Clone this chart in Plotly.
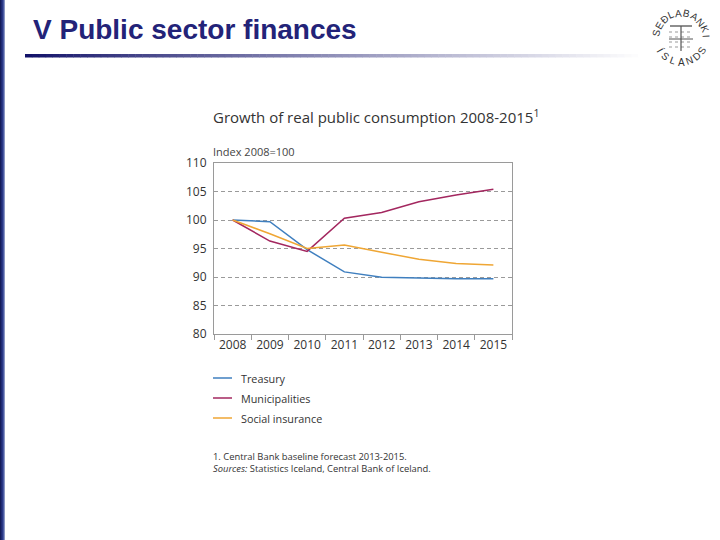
import math
import plotly.graph_objects as go

years = ["2008", "2009", "2010", "2011", "2012", "2013", "2014", "2015"]
treasury = [100.0, 99.7, 94.8, 90.9, 89.95, 89.8, 89.7, 89.7]
municipalities = [100.0, 96.3, 94.5, 100.3, 101.3, 103.2, 104.4, 105.4]
social_insurance = [100.0, 97.6, 95.0, 95.6, 94.35, 93.1, 92.35, 92.1]

series_names = ["Treasury", "Municipalities", "Social insurance"]
series_colors = ["#3f7fbf", "#a3275f", "#efa634"]
y_ticks = [80, 85, 90, 95, 100, 105, 110]

W, H = 720, 540
L, R, T, B = 214, 512, 163, 334


def px(x):
    return (x - L) / (R - L)


def py(y):
    return (B - y) / (B - T)


fig = go.Figure()
for name, vals, col in zip(series_names, [treasury, municipalities, social_insurance], series_colors):
    fig.add_trace(go.Scatter(x=years, y=vals, name=name, mode="lines",
                             line=dict(color=col, width=1.5), showlegend=False, hoverinfo="skip"))

shapes = []
annotations = []

# left slide edge
edge_cols = ["#141c5a", "#1f2a72", "#2a3886", "#4a5aa0", "#8a96c4"]
for i, c in enumerate(edge_cols):
    shapes.append(dict(type="rect", xref="paper", yref="paper", x0=px(i), x1=px(i + 1), y0=py(540), y1=py(0),
                       fillcolor=c, line=dict(width=0), layer="above"))

# gradient rule under the title
n = 90
x_start, x_end = 25, 645
for i in range(n):
    t = i / (n - 1)
    r = int(18 + (255 - 18) * t ** 0.9)
    g = int(18 + (255 - 18) * t ** 0.9)
    b = int(105 + (255 - 105) * t ** 0.9)
    xa = x_start + (x_end - x_start) * i / n
    xb = x_start + (x_end - x_start) * (i + 1) / n + 0.5
    shapes.append(dict(type="rect", xref="paper", yref="paper", x0=px(xa), x1=px(xb), y0=py(57.5), y1=py(54),
                       fillcolor=f"rgb({r},{g},{b})", line=dict(width=0)))

# slide title
annotations.append(dict(text="<b>V Public sector finances</b>", xref="paper", yref="paper",
                        x=px(31), y=py(29), xanchor="left", yanchor="middle", showarrow=False,
                        font=dict(family="Liberation Sans", size=28, color="#232378")))

# logo approximation (circular seal lettering)
cx, cy, rad = 681, 38, 25
top_word = "SEÐLABANKI"
for i, ch in enumerate(top_word):
    ang = 168 - i * (165 / (len(top_word) - 1))
    a = math.radians(ang)
    x = cx + rad * math.cos(a)
    y = cy - rad * math.sin(a)
    annotations.append(dict(text=ch, xref="paper", yref="paper", x=px(x), y=py(y), showarrow=False,
                            xanchor="center", yanchor="middle",
                            textangle=90 - ang, font=dict(family="Liberation Sans", size=10, color="#333")))
bottom_word = "ÍSLANDS"
for i, ch in enumerate(bottom_word):
    ang = -150 + i * (120 / (len(bottom_word) - 1))
    a = math.radians(ang)
    x = cx + (rad - 1) * math.cos(a)
    y = cy - (rad - 1) * math.sin(a)
    annotations.append(dict(text=ch, xref="paper", yref="paper", x=px(x), y=py(y), showarrow=False,
                            xanchor="center", yanchor="middle",
                            textangle=-90 - ang, font=dict(family="Liberation Sans", size=10, color="#333")))
# inner crest (light sketch)
for yy in [cy - 6, cy - 1, cy + 4, cy + 9]:
    shapes.append(dict(type="line", xref="paper", yref="paper", x0=px(cx - 12), x1=px(cx + 12),
                       y0=py(yy), y1=py(yy), line=dict(color="#999", width=1, dash="dot")))
shapes.append(dict(type="line", xref="paper", yref="paper", x0=px(cx - 11), x1=px(cx + 11),
                   y0=py(cy - 12), y1=py(cy - 12), line=dict(color="#444", width=1.2)))
shapes.append(dict(type="line", xref="paper", yref="paper", x0=px(cx), x1=px(cx),
                   y0=py(cy - 12), y1=py(cy + 13), line=dict(color="#555", width=1.2)))
shapes.append(dict(type="line", xref="paper", yref="paper", x0=px(cx - 12), x1=px(cx + 12),
                   y0=py(cy + 1), y1=py(cy + 1), line=dict(color="#555", width=1)))

# chart title and axis title
annotations.append(dict(text="Growth of real public consumption 2008-2015<sup>1</sup>", xref="paper", yref="paper",
                        x=px(211), y=py(117), xanchor="left", yanchor="middle", showarrow=False,
                        font=dict(family="Open Sans", size=15, color="#333")))
annotations.append(dict(text="Index 2008=100", xref="paper", yref="paper",
                        x=px(211), y=py(151), xanchor="left", yanchor="middle", showarrow=False,
                        font=dict(family="Open Sans", size=11, color="#444")))

# legend
for i, (name, col) in enumerate(zip(series_names, series_colors)):
    yy = 378 + 20 * i
    shapes.append(dict(type="line", xref="paper", yref="paper", x0=px(213), x1=px(232), y0=py(yy), y1=py(yy),
                       line=dict(color=col, width=1.5)))
    annotations.append(dict(text=name, xref="paper", yref="paper", x=px(239), y=py(yy),
                            xanchor="left", yanchor="middle", showarrow=False,
                            font=dict(family="Open Sans", size=10.8, color="#333")))

# footnotes
annotations.append(dict(text="1. Central Bank baseline forecast 2013-2015.", xref="paper", yref="paper",
                        x=px(211), y=py(456), xanchor="left", yanchor="middle", showarrow=False,
                        font=dict(family="Open Sans", size=9.4, color="#333")))
annotations.append(dict(text="<i>Sources:</i> Statistics Iceland, Central Bank of Iceland.", xref="paper", yref="paper",
                        x=px(211), y=py(468), xanchor="left", yanchor="middle", showarrow=False,
                        font=dict(family="Open Sans", size=9.4, color="#333")))

fig.update_layout(
    width=W, height=H,
    margin=dict(l=L, r=W - R, t=T, b=H - B, pad=0),
    paper_bgcolor="white", plot_bgcolor="white",
    shapes=shapes, annotations=annotations,
    xaxis=dict(type="category", range=[-0.5, 7.5], showgrid=False, showline=True, linecolor="#9a9a9a",
               linewidth=1, mirror=True, ticks="outside", tickson="boundaries", ticklen=5, tickcolor="#9a9a9a",
               tickfont=dict(family="Open Sans", size=12, color="#333"), fixedrange=True),
    yaxis=dict(range=[80, 110], tickvals=y_ticks, showgrid=True, gridcolor="#9a9a9a", griddash="4px,3px",
               gridwidth=1, showline=True, linecolor="#9a9a9a", linewidth=1, mirror=True, ticks="",
               ticklabelstandoff=4,
               zeroline=False, tickfont=dict(family="Open Sans", size=12, color="#333"), fixedrange=True),
    showlegend=False,
)

fig.write_html("out.html", config={"displayModeBar": False},
               post_script="document.body.style.margin='0';")
